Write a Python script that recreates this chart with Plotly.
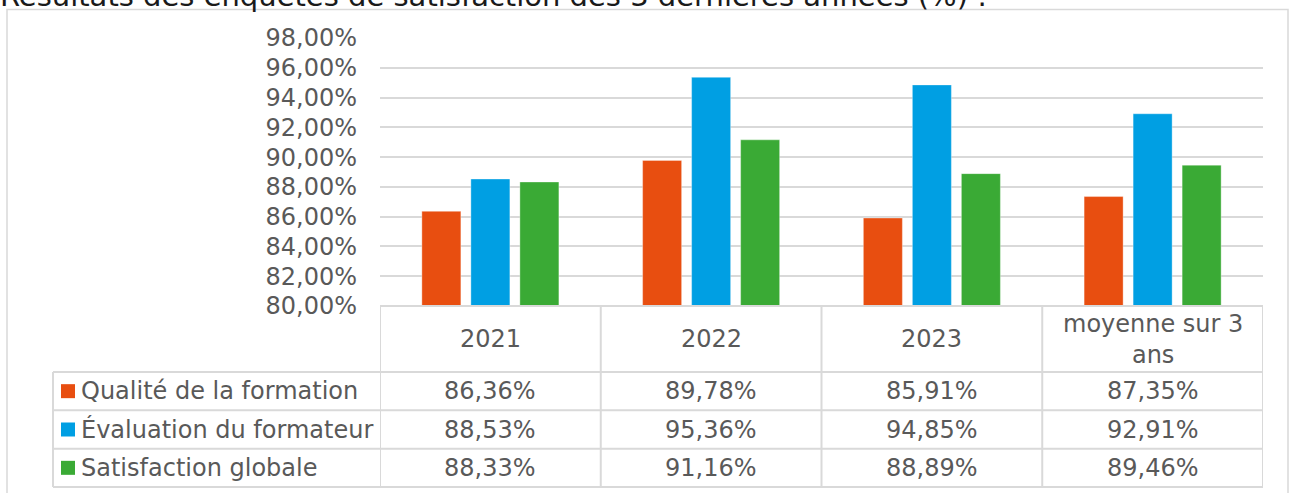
import plotly.graph_objects as go

# ---------------- data ----------------
categories = ["2021", "2022", "2023", "moyenne sur 3 ans"]
header_labels = ["2021", "2022", "2023", "moyenne sur 3<br>ans"]
series_names = ["Qualité de la formation", "Évaluation du formateur", "Satisfaction globale"]
qualite = [86.36, 89.78, 85.91, 87.35]
evaluation = [88.53, 95.36, 94.85, 92.91]
satisfaction = [88.33, 91.16, 88.89, 89.46]
y_ticks = [80, 82, 84, 86, 88, 90, 92, 94, 96, 98]
title_text = "Résultats des enquêtes de satisfaction des 3 dernières années (%) :"

colors = ["#E84E10", "#009FE3", "#3AAA35"]
series_values = [qualite, evaluation, satisfaction]

def fmt(v):
    return f"{v:.2f}".replace(".", ",") + "%"

# ---------------- layout geometry (pixels) ----------------
W, H = 1290, 493
L, R, T, B = 380, 27, 38, 187
PW, PH = W - L - R, H - T - B
FONT = "DejaVu Sans"
FS = 24
TXT = "#595959"
GRID = "#D9D9D9"

def px(x):
    return (x - L) / PW

def py(y):
    return (H - B - y) / PH

fig = go.Figure()
for name, vals, col in zip(series_names, series_values, colors):
    fig.add_trace(go.Bar(
        x=categories, y=vals, name=name,
        marker=dict(color=col, line=dict(color="rgba(255,255,255,0.35)", width=1)),
        showlegend=False,
    ))

# table geometry
header_top, header_bot = H - B, 372
row_h = (487 - 372) / 3
rows_top = [header_bot + i * row_h for i in range(4)]
label_left = 53

shapes = []
# outer chart border
shapes.append(dict(type="rect", xref="paper", yref="paper", x0=px(7), x1=px(1288), y0=py(9.5), y1=py(520),
                   line=dict(color=GRID, width=1.5), fillcolor="rgba(0,0,0,0)", layer="below"))
# header top line
shapes.append(dict(type="line", xref="x", yref="paper", x0=-0.5, x1=len(categories) - 0.5,
                   y0=py(header_top), y1=py(header_top), line=dict(color=GRID, width=2)))
# horizontal row lines (full width incl. legend column)
for yv in rows_top:
    shapes.append(dict(type="line", xref="paper", yref="paper", x0=px(label_left), x1=1,
                       y0=py(yv), y1=py(yv), line=dict(color=GRID, width=2)))
# vertical lines at category boundaries
for i in range(len(categories) + 1):
    shapes.append(dict(type="line", xref="x", yref="paper", x0=i - 0.5, x1=i - 0.5,
                       y0=py(header_top), y1=py(rows_top[-1]), line=dict(color=GRID, width=2)))
# legend column left line
shapes.append(dict(type="line", xref="paper", yref="paper", x0=px(label_left), x1=px(label_left),
                   y0=py(rows_top[0]), y1=py(rows_top[-1]), line=dict(color=GRID, width=2)))

annotations = []
# header labels (x = category index on the category axis)
for i, lab in enumerate(header_labels):
    annotations.append(dict(x=i, xref="x", y=py((header_top + header_bot) / 2), yref="paper",
                            text=lab, showarrow=False, xanchor="center", yanchor="middle",
                            font=dict(family=FONT, size=FS, color=TXT)))
# rows
for r, (name, vals, col) in enumerate(zip(series_names, series_values, colors)):
    yc = rows_top[r] + row_h / 2
    # legend key
    shapes.append(dict(type="rect", xref="paper", yref="paper", x0=px(61), x1=px(75),
                       y0=py(yc - 7), y1=py(yc + 7), fillcolor=col, line=dict(width=0)))
    annotations.append(dict(x=px(79), xref="paper", y=py(yc), yref="paper", text=name,
                            showarrow=False, xanchor="left", yanchor="middle",
                            font=dict(family=FONT, size=FS, color=TXT)))
    for i, v in enumerate(vals):
        annotations.append(dict(x=i, xref="x", y=py(yc), yref="paper", text=fmt(v),
                                showarrow=False, xanchor="center", yanchor="middle",
                                font=dict(family=FONT, size=FS, color=TXT)))
# title
annotations.append(dict(x=px(-2), xref="paper", y=py(15), yref="paper", text=title_text,
                        showarrow=False, xanchor="left", yanchor="bottom",
                        font=dict(family=FONT, size=29, color="#1A1A1A")))

fig.update_layout(
    width=W, height=H,
    margin=dict(l=L, r=R, t=T, b=B, pad=0),
    paper_bgcolor="white", plot_bgcolor="white",
    barmode="group", bargap=0.334, bargroupgap=0.204,
    xaxis=dict(type="category", showticklabels=False, showgrid=False, zeroline=False, showline=False,
               range=[-0.5, len(categories) - 0.5]),
    yaxis=dict(range=[80, 98], tickvals=y_ticks, ticktext=[fmt(t) for t in y_ticks],
               showgrid=True, gridcolor=GRID, gridwidth=1.5, zeroline=False, showline=False,
               ticks="", ticklabelstandoff=22,
               tickfont=dict(family=FONT, size=FS, color=TXT)),
    shapes=shapes, annotations=annotations,
    font=dict(family=FONT),
)

fig.write_html("out.html", config={"displayModeBar": False},
               post_script="document.body.style.margin='0';document.body.style.padding='0';")
